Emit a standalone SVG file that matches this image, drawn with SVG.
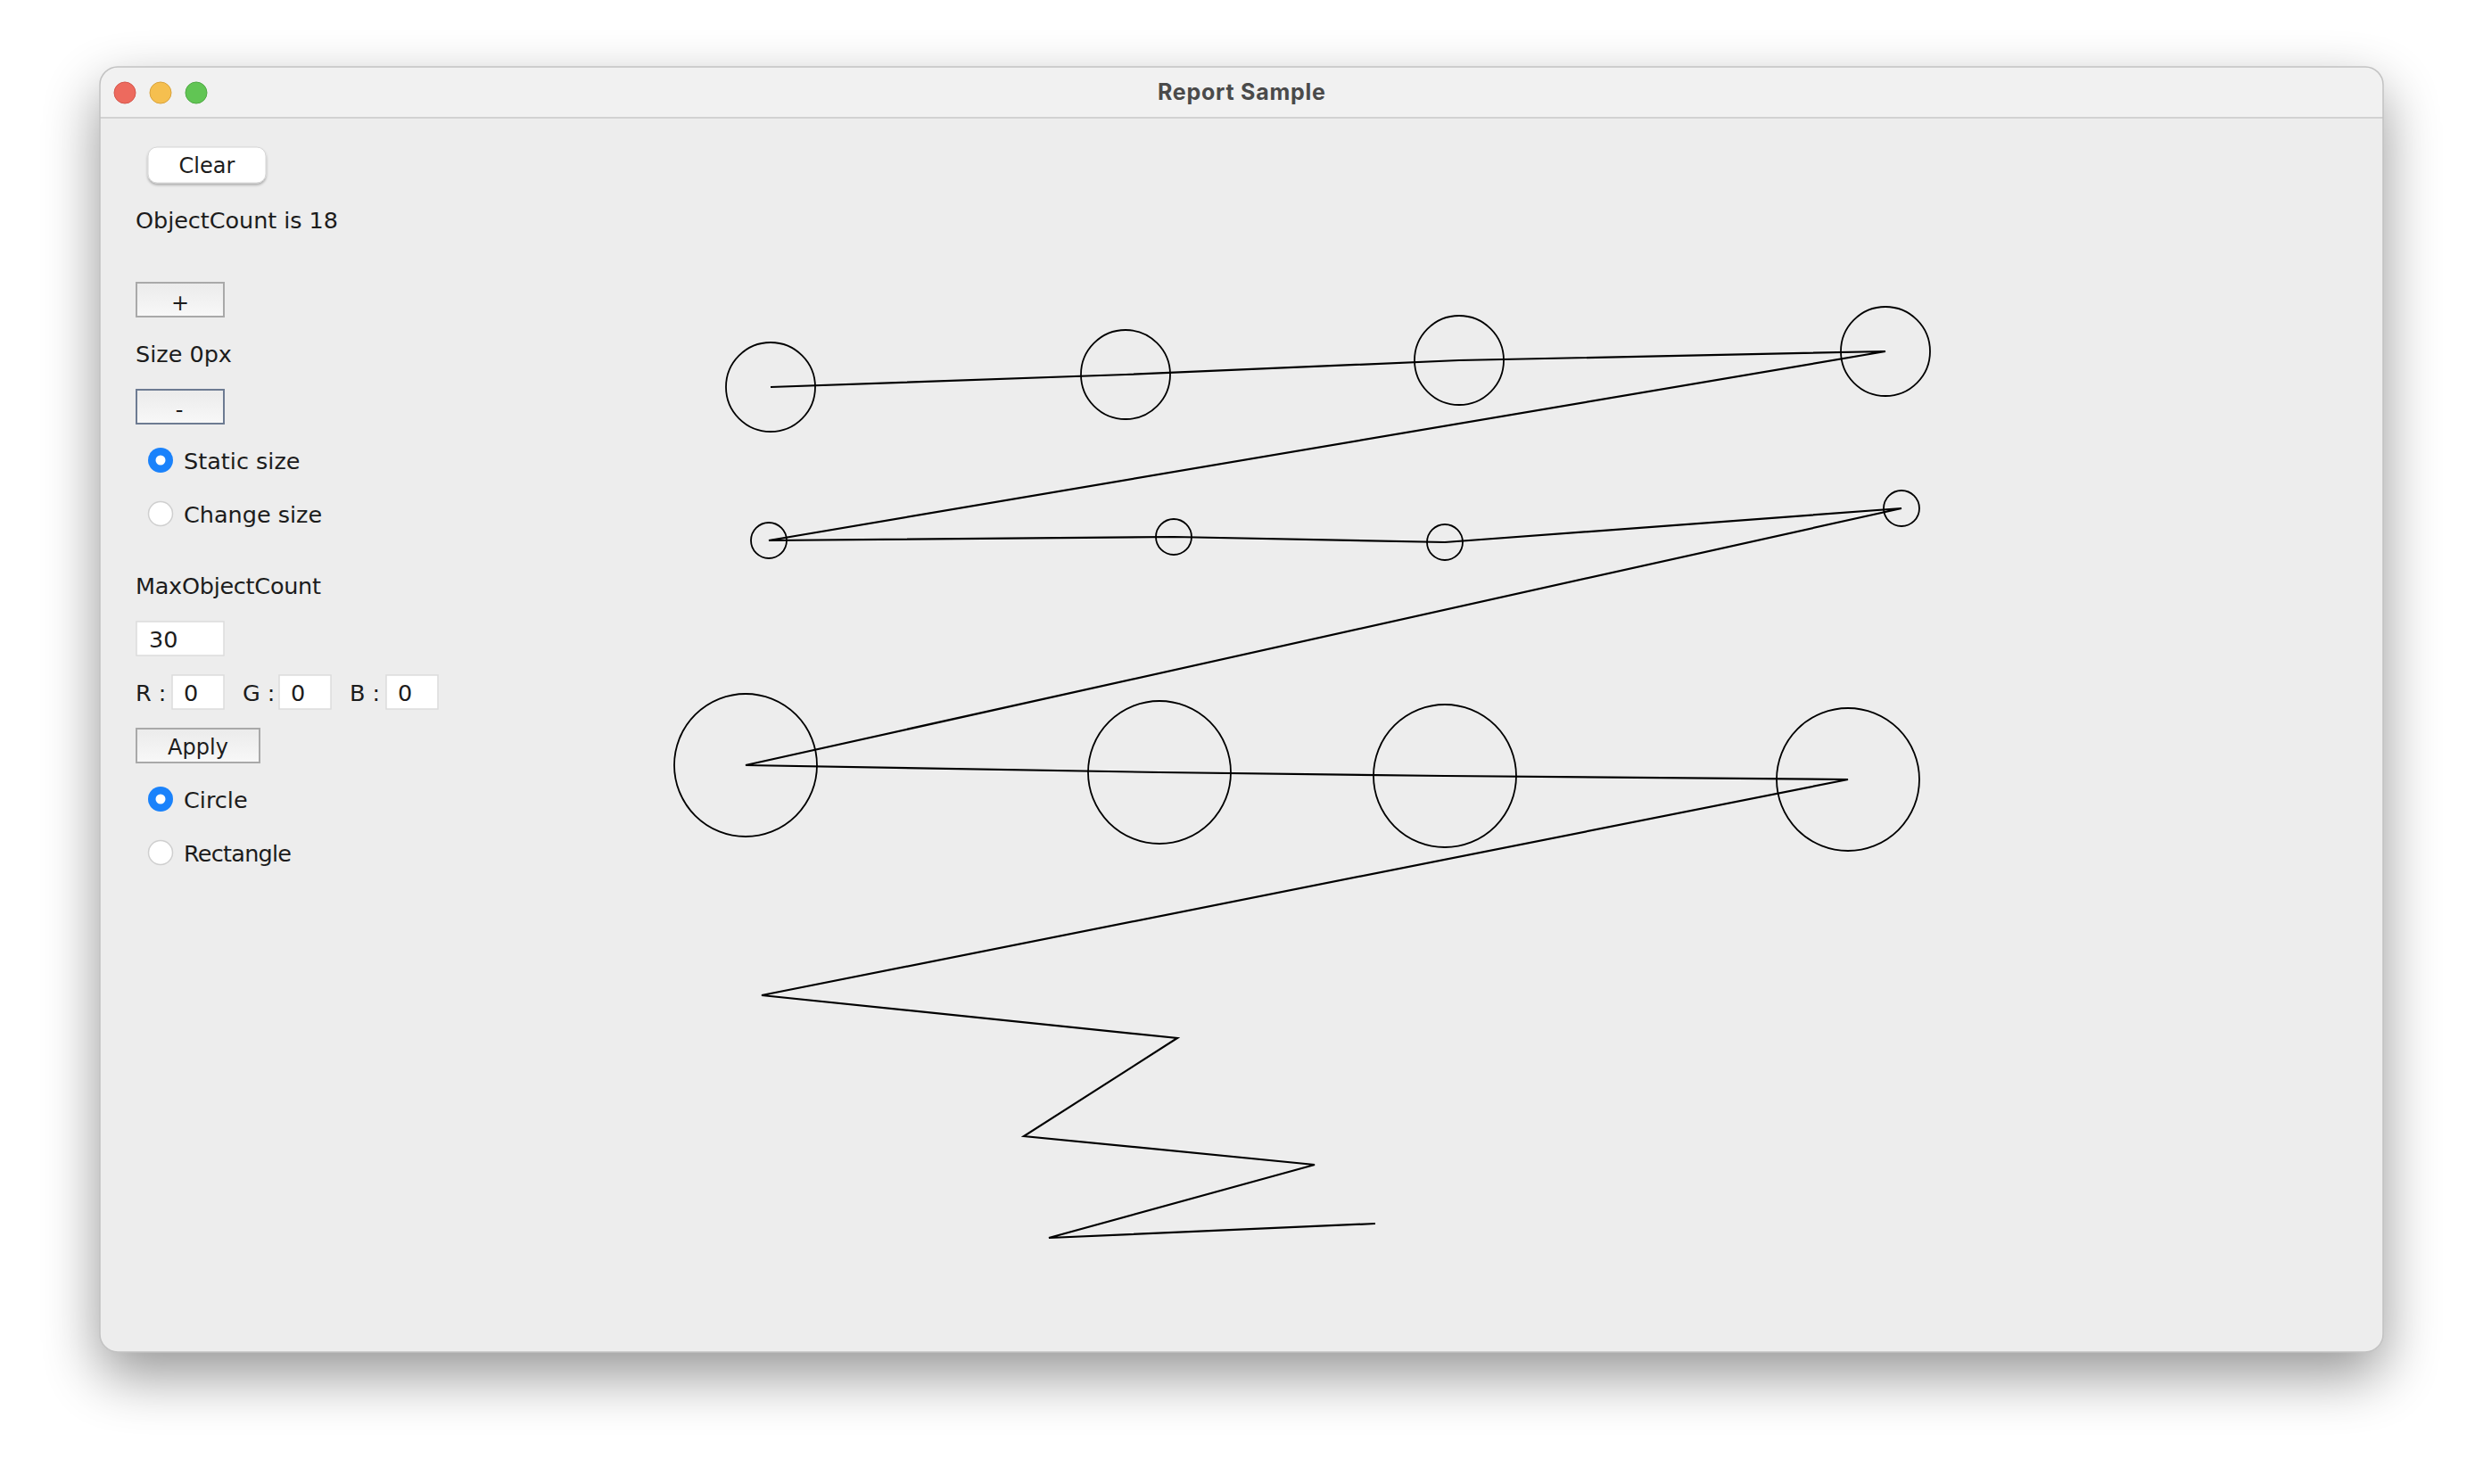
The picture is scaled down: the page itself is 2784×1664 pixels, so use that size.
<svg xmlns="http://www.w3.org/2000/svg" width="2784" height="1664" viewBox="0 0 2784 1664">
<defs>
<filter id="winShadow" x="-10%" y="-15%" width="120%" height="135%">
<feGaussianBlur in="SourceAlpha" stdDeviation="32"/>
<feOffset dy="26" result="b"/>
<feComponentTransfer><feFuncA type="linear" slope="0.42"/></feComponentTransfer>
<feMerge><feMergeNode/><feMergeNode in="SourceGraphic"/></feMerge>
</filter>
<filter id="btnShadow" x="-10%" y="-20%" width="120%" height="160%">
<feGaussianBlur in="SourceAlpha" stdDeviation="1.5"/>
<feOffset dy="1.5"/>
<feComponentTransfer><feFuncA type="linear" slope="0.3"/></feComponentTransfer>
<feMerge><feMergeNode/><feMergeNode in="SourceGraphic"/></feMerge>
</filter>
<linearGradient id="btnGrad" x1="0" y1="0" x2="0" y2="1">
<stop offset="0" stop-color="#ebebeb"/>
<stop offset="1" stop-color="#f8f8f8"/>
</linearGradient>
<clipPath id="winClip"><rect x="112" y="75" width="2560" height="1441" rx="20"/></clipPath>
</defs>
<style>
.lbl{font-family:"DejaVu Sans","Liberation Sans",sans-serif;font-size:25.5px;fill:#1c1c1c}
.btxt{font-family:"DejaVu Sans","Liberation Sans",sans-serif;font-size:24px;fill:#1c1c1c;text-anchor:middle}
.btn{fill:url(#btnGrad);stroke:#a9a9a9;stroke-width:2}
.field{fill:#ffffff;stroke:#dcdcdc;stroke-width:1.5}
.radioOff{fill:#ffffff;stroke:#cfcfcf;stroke-width:1.5}
.radioOn{fill:#1a82fb}
.shape{fill:none;stroke:#000000;stroke-width:1.8}
.link{fill:none;stroke:#000000;stroke-width:2.2;stroke-linejoin:miter}
</style>
<rect x="0" y="0" width="2784" height="1664" fill="#ffffff"/>
<g id="window">
<rect x="112" y="75" width="2560" height="1441" rx="20" fill="#ededed" filter="url(#winShadow)"/>
<g clip-path="url(#winClip)">
<rect x="112" y="75" width="2560" height="57" fill="#f1f1f1"/>
<line x1="112" y1="132" x2="2672" y2="132" stroke="#d2d2d2" stroke-width="2"/>
</g>
<rect x="112" y="75" width="2560" height="1441" rx="20" fill="none" stroke="#c2c2c2" stroke-width="1.5"/>
<circle cx="140" cy="104" r="12" fill="#ed6a5e" stroke="#d5564b" stroke-width="1"/>
<circle cx="180" cy="104" r="12" fill="#f5bf4f" stroke="#d9a33d" stroke-width="1"/>
<circle cx="220" cy="104" r="12" fill="#61c554" stroke="#4fa944" stroke-width="1"/>
<text x="1392" y="112" text-anchor="middle" font-family="Inter,Roboto,'Liberation Sans',sans-serif" font-weight="700" font-size="25" fill="#4a4a4a" textLength="188">Report Sample</text>
</g>
<g id="controls">
<g id="clearButton">
<rect x="166" y="165" width="132" height="40" rx="10" fill="#ffffff" stroke="#d6d6d6" stroke-width="1" filter="url(#btnShadow)"/>
<text class="btxt" x="232" y="194" font-size="25">Clear</text>
</g>
<text id="objectCount" class="lbl" x="152" y="256" textLength="227">ObjectCount is 18</text>
<g id="plusButton">
<rect class="btn" x="153" y="317" width="98" height="38"/>
<text class="btxt" x="202" y="348" font-size="28">+</text>
</g>
<text id="sizeLabel" class="lbl" x="152" y="406">Size 0px</text>
<g id="minusButton">
<rect class="btn" x="153" y="437" width="98" height="38" style="stroke:#6d7b92"/>
<text class="btxt" x="201" y="468" font-size="36">-</text>
</g>
<g id="staticSize">
<circle class="radioOn" cx="180" cy="516" r="14"/>
<circle cx="180" cy="516" r="5.5" fill="#ffffff"/>
<text class="lbl" x="206" y="526">Static size</text>
</g>
<g id="changeSize">
<circle class="radioOff" cx="180" cy="576" r="13.5"/>
<text class="lbl" x="206" y="586">Change size</text>
</g>
<text id="maxLabel" class="lbl" x="152" y="666" textLength="208">MaxObjectCount</text>
<g id="maxField">
<rect class="field" x="153" y="697" width="98" height="38"/>
<text class="lbl" x="167" y="726">30</text>
</g>
<g id="rgbFields">
<text class="lbl" x="152" y="786">R :</text>
<rect class="field" x="193" y="757" width="58" height="38"/>
<text class="lbl" x="206" y="786">0</text>
<text class="lbl" x="272" y="786">G :</text>
<rect class="field" x="313" y="757" width="58" height="38"/>
<text class="lbl" x="326" y="786">0</text>
<text class="lbl" x="392" y="786">B :</text>
<rect class="field" x="433" y="757" width="58" height="38"/>
<text class="lbl" x="446" y="786">0</text>
</g>
<g id="applyButton">
<rect class="btn" x="153" y="817" width="138" height="38"/>
<text class="btxt" x="222" y="846" font-size="25.5">Apply</text>
</g>
<g id="circleRadio">
<circle class="radioOn" cx="180" cy="896" r="14"/>
<circle cx="180" cy="896" r="5.5" fill="#ffffff"/>
<text class="lbl" x="206" y="906">Circle</text>
</g>
<g id="rectRadio">
<circle class="radioOff" cx="180" cy="956" r="13.5"/>
<text class="lbl" x="206" y="966" textLength="121">Rectangle</text>
</g>
</g>
<g id="connectors">
<polyline class="link" points="864,434 1262,420 1636,404 2114,394 862,606 1316,602 1620,608 2132,570 836,858 1300,866 1620,870 2072,874 854,1116 1320,1164 1148,1274 1474,1306 1176,1388 1542,1372"/>
</g>
<g id="node1"><circle class="shape" cx="864" cy="434" r="50"/></g>
<g id="node2"><circle class="shape" cx="1262" cy="420" r="50"/></g>
<g id="node3"><circle class="shape" cx="1636" cy="404" r="50"/></g>
<g id="node4"><circle class="shape" cx="2114" cy="394" r="50"/></g>
<g id="node5"><circle class="shape" cx="862" cy="606" r="20"/></g>
<g id="node6"><circle class="shape" cx="1316" cy="602" r="20"/></g>
<g id="node7"><circle class="shape" cx="1620" cy="608" r="20"/></g>
<g id="node8"><circle class="shape" cx="2132" cy="570" r="20"/></g>
<g id="node9"><circle class="shape" cx="836" cy="858" r="80"/></g>
<g id="node10"><circle class="shape" cx="1300" cy="866" r="80"/></g>
<g id="node11"><circle class="shape" cx="1620" cy="870" r="80"/></g>
<g id="node12"><circle class="shape" cx="2072" cy="874" r="80"/></g>
</svg>
